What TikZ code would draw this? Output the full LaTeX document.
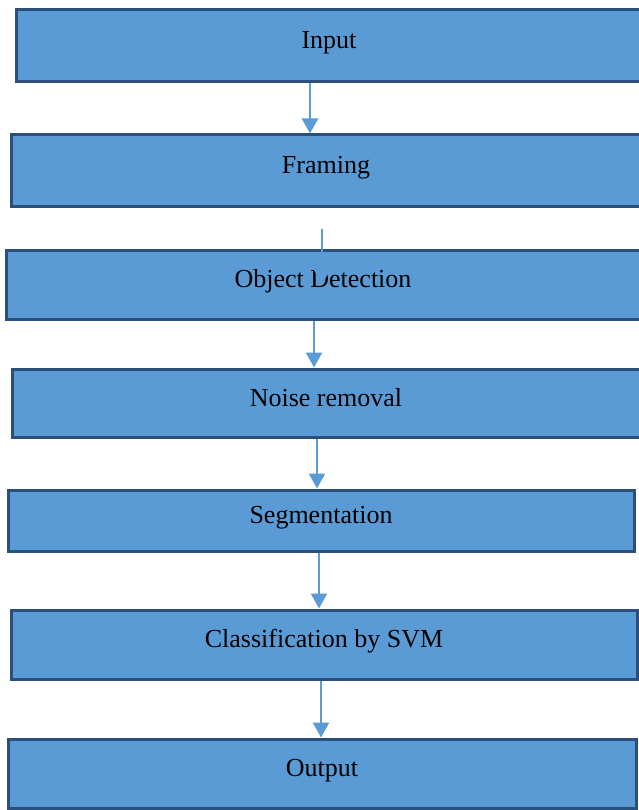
\documentclass[tikz,border=0pt]{standalone}
\usepackage{fontspec}
\setmainfont{Liberation Serif}
\usepackage{tikz}
\usetikzlibrary{positioning, arrows.meta, calc}
\usepackage{xcolor}
\definecolor{boxblue}{HTML}{5B9BD5}
\definecolor{boxedge}{HTML}{2B4F7A}

\begin{document}
\begin{tikzpicture}[
    x=1pt, y=-1pt,
    stage/.style={rectangle, draw=boxedge, line width=3pt, fill=boxblue, minimum width=628pt, minimum height=69pt, inner sep=0pt, text height=18pt, text depth=12pt, font=\fontsize{26}{30}\selectfont},
    flow/.style={boxblue, line width=2.5pt, -{Triangle[length=15pt, width=16pt]}}
]
    \useasboundingbox (0,0) rectangle (638,810);

    \node[stage, minimum width=626pt, minimum height=72pt] (input) at (329,46) {Input};
    \node[stage, minimum width=630pt, minimum height=72pt] (framing) at (326,171) {Framing};
    \node[stage, minimum width=634pt] (objdet) at (323,284.5) {Object Detection};
    \node[stage, minimum height=68pt] (noise) at (326,403) {Noise removal};
    \node[stage, minimum width=626pt, minimum height=61pt] (seg) at (321,520.5) {Segmentation};
    \node[stage, minimum width=626pt] (svm) at (324,644.5) {Classification by SVM};
    \node[stage] (output) at (322,773.5) {Output};

    \coordinate (gap) at (322,229);

    \draw[flow] (input.south -| 310,0) -- (framing.north -| 310,0);
    \draw[flow] (gap) -- ($(gap |- objdet.north)+(0,36)$);
    \foreach \a/\b/\x in {objdet/noise/314, noise/seg/317, seg/svm/319, svm/output/321}
        \draw[flow] (\a.south -| \x,0) -- (\b.north -| \x,0);
\end{tikzpicture}
\end{document}
